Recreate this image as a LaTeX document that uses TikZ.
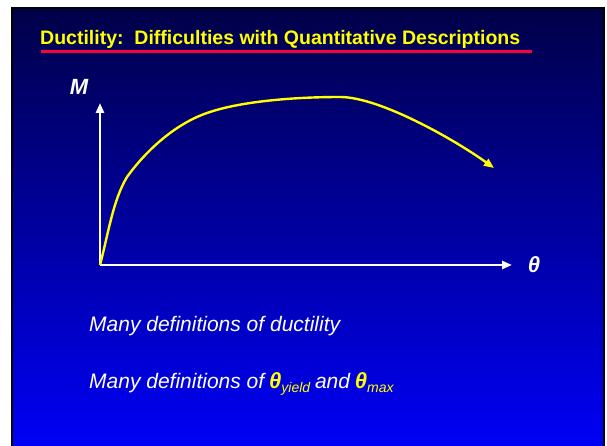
\documentclass[tikz,border=0pt]{standalone}
\usepackage{fontspec}
\setmainfont{Liberation Sans}
\usepackage{xcolor}
\usetikzlibrary{arrows.meta}

\definecolor{slidetop}{RGB}{0,0,72}
\definecolor{slidebot}{RGB}{0,0,246}
\definecolor{titleyellow}{RGB}{255,255,0}
\definecolor{rulered}{RGB}{255,0,60}

\begin{document}
\begin{tikzpicture}[x=1pt, y=-1pt,
    axis/.style={line width=2.6pt, white, -{Triangle[length=10pt,width=8pt]}},
    curve/.style={line width=2.4pt, titleyellow, -{Triangle[length=10pt,width=8pt]}},
    axislabel/.style={white, font=\fontsize{22}{24}\selectfont\bfseries\itshape},
    bodytext/.style={white, anchor=base west, inner sep=0pt, font=\fontsize{21}{24}\selectfont\itshape}]
    \useasboundingbox (0,0) rectangle (607,446);

    % Slide background
    \shade [top color=slidetop, bottom color=slidebot] (12,8) rectangle (604,446);
    \draw [line width=2pt, black] (12,446) -- (12,8) -- (604,8) -- (604,446);

    % Title
    \node [anchor=base west, inner sep=0pt, titleyellow, font=\fontsize{19.5}{22}\selectfont\bfseries]
        (title) at (40,45) {Ductility:\ \ Difficulties with Quantitative Descriptions};
    \draw [line width=3pt, rulered] (41,52) -- (532,52);

    % Axes
    \coordinate (O) at (100,265);
    \coordinate (Mtop) at (100,103);
    \coordinate (thend) at (512,265);
    \draw [axis] (O) -- (Mtop);
    \draw [axis] (O) -- (thend);
    \node [axislabel] (M) at (79,87) {M};
    \node [axislabel] (theta) at (534,265) {θ};

    % Moment-rotation curve
    \coordinate (tip) at (494,168);
    \draw [curve] (O) .. controls (108,235) and (113,200) .. (127,177)
        .. controls (145,152) and (175,123) .. (210,112)
        .. controls (240,102) and (290,97) .. (340,97)
        .. controls (380,97) and (455,140) .. (tip);

    % Remarks
    \node [bodytext] (ductility) at (89,331) {Many definitions of ductility};
    \node [bodytext] (thetadefs) at (89,388) {Many definitions of\hspace{-1pt}
        \textcolor{titleyellow}{\fontsize{22}{24}\selectfont\bfseries θ\raisebox{-0.4ex}{\fontsize{14}{16}\selectfont\mdseries yield}}\hspace{-1pt}
        and\hspace{-1pt} \textcolor{titleyellow}{\fontsize{22}{24}\selectfont\bfseries θ\raisebox{-0.4ex}{\fontsize{14}{16}\selectfont\mdseries max}}};
\end{tikzpicture}
\end{document}
